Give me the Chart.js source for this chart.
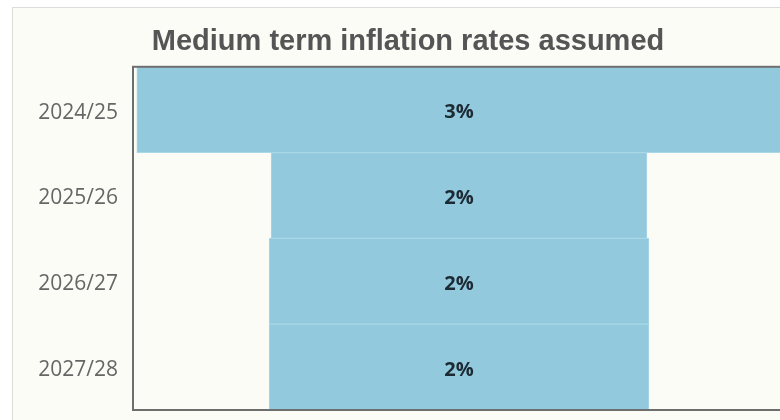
<!DOCTYPE html>
<html>
<head>
<meta charset="utf-8">
<script src="https://cdn.jsdelivr.net/npm/chart.js@4"></script>
<style>
  html, body { margin: 0; padding: 0; background: #ffffff; overflow: hidden; }
  #panel {
    position: absolute; left: 12px; top: 7px; width: 800px; height: 430px;
    border-top: 1px solid #dcdcdc; border-left: 1px solid #dcdcdc;
    background: #fcfcf7;
  }
  #chart { position: absolute; left: 0; top: 0; }
</style>
</head>
<body>
<div id="panel">
  <canvas id="chart" width="790" height="412"></canvas>
</div>
<script>
  // years on the y axis
  const years = ["2024/25", "2025/26", "2026/27", "2027/28"];
  // assumed inflation rate (%) shown inside each bar
  const rates = [3, 2, 2, 2];
  // half width of each funnel bar (axis runs -3.4 .. 3.4)
  const halfWidths = [3.36, 1.96, 1.98, 1.98];

  const funnelData = halfWidths.map((h) => [-h, h]);

  // writes the rate in the middle of each bar
  const barLabels = {
    id: "barLabels",
    afterDatasetsDraw(chart) {
      const ctx = chart.ctx;
      const meta = chart.getDatasetMeta(0);
      const midX = (chart.chartArea.left + chart.chartArea.right) / 2;
      ctx.save();
      ctx.font = "bold 20px 'Open Sans', 'Noto Sans', sans-serif";
      ctx.fillStyle = "#1c2a33";
      ctx.textAlign = "center";
      ctx.textBaseline = "middle";
      meta.data.forEach((bar, i) => {
        ctx.fillText(rates[i] + "%", midX, bar.y + 3);
      });
      ctx.restore();
    },
  };

  // dark frame round the plot area
  const plotFrame = {
    id: "plotFrame",
    afterDraw(chart) {
      const a = chart.chartArea;
      const ctx = chart.ctx;
      ctx.save();
      ctx.strokeStyle = "#6e6e6e";
      ctx.lineWidth = 2;
      ctx.strokeRect(a.left, a.top, a.right - a.left + 20, a.bottom - a.top);
      ctx.restore();
    },
  };

  const ctx = document.getElementById("chart").getContext("2d");
  new Chart(ctx, {
    type: "bar",
    data: {
      labels: years,
      datasets: [
        {
          label: "Inflation",
          data: funnelData,
          backgroundColor: "#93c9dd",
          borderColor: "#a9d7e7",
          borderWidth: 1,
          borderSkipped: false,
          barPercentage: 1,
          categoryPercentage: 1,
        },
      ],
    },
    options: {
      responsive: false,
      indexAxis: "y",
      animation: false,
      layout: { padding: { left: 18, right: 18, top: 0, bottom: 10 } },
      plugins: {
        legend: { display: false },
        tooltip: { enabled: false },
        title: {
          display: true,
          text: "Medium term inflation rates assumed",
          color: "#555555",
          font: { family: "'Liberation Sans', Arial, sans-serif", size: 29, weight: "bold" },
          padding: { top: 17, bottom: 7 },
        },
      },
      scales: {
        x: {
          type: "linear",
          min: -3.4,
          max: 3.4,
          display: false,
        },
        y: {
          grid: { display: false, drawTicks: false },
          border: { display: false },
          ticks: {
            color: "#666666",
            padding: 15,
            labelOffset: 3,
            font: { family: "'Open Sans', 'Noto Sans', sans-serif", size: 21 },
          },
          afterFit(scale) {
            scale.width = 102;
            scale.paddingTop = 0;
            scale.paddingBottom = 0;
          },
        },
      },
    },
    plugins: [barLabels, plotFrame],
  });
</script>
</body>
</html>
